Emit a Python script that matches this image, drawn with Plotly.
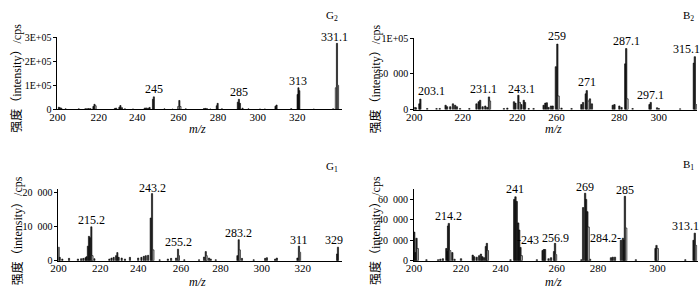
import plotly.graph_objects as go

W, H = 700, 291

# ------------------------------------------------------------------ data
# G2 spectrum (m/z, intensity cps)
G2_mz = [200.3, 200.8, 201.5, 203.5, 209.7, 212.8, 213.6, 214.4, 215.2, 216.6, 217.1,
         226.7, 227.3, 228.8, 229.3, 230.0, 231.4, 235.2, 240.7, 241.4, 242.3, 243.0,
         244.6, 245.0, 250.0, 253.8, 257.0, 260.0, 268.6, 269.3, 270.0, 271.6, 274.6,
         275.0, 277.0, 284.5, 285.0, 285.5, 286.7, 289.5, 294.9, 297.2, 302.2, 302.7,
         309.6, 312.6, 313.0, 313.4, 320.2, 329.3, 331.1]
G2_int = [9000, 7000, 5000, 2000, 2000, 2500, 3000, 3500, 3000, 12000, 21000,
          4000, 5000, 9000, 16000, 7000, 2000, 1500, 5000, 6000, 5000, 8000,
          42000, 52000, 2000, 1000, 37000, 2000, 3500, 4000, 3000, 1500, 15000,
          25000, 2000, 30000, 42000, 25000, 5000, 2000, 1500, 1500, 13000, 18000,
          3000, 62000, 90000, 78000, 1000, 2000, 275000]
G2_hollow_mz = [217.6, 256.5, 257.5, 330.6, 331.6]
G2_hollow_int = [15000, 12000, 12000, 90000, 100000]
G2_labels = ["245", "285", "313", "331.1"]
G2_label_mz = [245.0, 285.0, 313.0, 331.1]

# B2 spectrum
B2_mz = [200.8, 201.3, 202.7, 203.1, 205.9, 209.7, 211.0, 213.4, 214.0, 215.3, 216.4,
         217.3, 218.0, 219.3, 223.1, 226.0, 226.9, 227.5, 228.5, 229.6, 230.4, 231.1,
         237.2, 238.6, 241.3, 241.9, 243.1, 244.3, 245.3, 245.8, 247.3, 249.3, 253.4,
         254.1, 254.7, 255.4, 256.4, 257.1, 258.4, 259.0, 260.7, 264.8, 268.8, 269.5,
         270.6, 271.0, 272.3, 273.1, 281.6, 282.3, 284.3, 285.2, 286.7, 287.1, 289.7,
         296.6, 297.1, 299.7, 300.4, 309.1, 314.7, 315.1]
B2_int = [3000, 2500, 8000, 14600, 1500, 1500, 1500, 6000, 4000, 4000, 8000,
          6000, 4000, 1500, 1500, 8000, 11000, 13000, 4000, 5000, 3000, 17700,
          1500, 2000, 11000, 9000, 20000, 7000, 13000, 10000, 1500, 1500, 6000,
          9000, 9500, 3000, 5000, 5000, 60000, 91600, 2000, 1500, 7000, 10000,
          22000, 26500, 15000, 8000, 6000, 7000, 5000, 3000, 64000, 85400, 1500,
          7000, 10000, 2500, 1500, 1000, 65000, 74000]
B2_hollow_mz = [231.5, 243.7, 259.5, 271.7, 287.6, 315.6]
B2_hollow_int = [12000, 10000, 19000, 12000, 15000, 7000]
B2_labels = ["203.1", "231.1", "243.1", "259", "271", "287.1", "297.1", "315.1"]
B2_label_mz = [203.1, 231.1, 243.1, 259.0, 271.0, 287.1, 297.1, 315.1]

# G1 spectrum
G1_mz = [200.1, 200.6, 201.8, 204.9, 209.0, 210.5, 211.5, 212.5, 213.0, 213.6, 214.1,
         214.6, 215.2, 216.6, 223.5, 224.5, 225.5, 226.6, 227.2, 227.8, 229.2, 230.7,
         233.0, 236.8, 238.3, 239.4, 240.3, 241.4, 242.6, 243.2, 246.7, 250.5, 252.0,
         254.3, 255.2, 258.1, 264.9, 267.2, 268.0, 269.5, 270.3, 272.6, 282.6, 283.2,
         284.7, 290.1, 295.4, 296.2, 300.0, 300.8, 310.3, 311.0, 328.6, 329.0]
G1_int = [4000, 1000, 500, 700, 500, 600, 700, 900, 1200, 4300, 7200,
          6800, 10000, 600, 500, 800, 1000, 1500, 2400, 1000, 800, 500,
          1000, 800, 1000, 1300, 1500, 1600, 12600, 19800, 300, 500, 700,
          800, 3400, 300, 300, 1100, 2700, 800, 500, 300, 1500, 6200,
          700, 300, 700, 900, 500, 800, 800, 4300, 2000, 4000]
G1_hollow_mz = [215.7, 243.8, 255.6, 268.4, 283.7, 311.5]
G1_hollow_int = [1500, 3200, 1500, 1500, 3200, 2500]
G1_labels = ["215.2", "243.2", "255.2", "283.2", "311", "329"]
G1_label_mz = [215.2, 243.2, 255.2, 283.2, 311.0, 329.0]

# B1 spectrum
B1_mz = [200.3, 200.7, 201.2, 205.2, 209.9, 210.8, 211.8, 213.2, 213.7, 213.9, 214.2,
         215.6, 216.5, 219.1, 223.8, 224.4, 225.4, 226.4, 227.1, 227.7, 228.4, 229.1,
         229.5, 239.0, 240.5, 241.0, 241.5, 242.1, 242.5, 243.0, 249.6, 251.9, 252.4,
         252.9, 254.3, 255.3, 256.5, 256.9, 267.5, 268.2, 269.0, 269.4, 269.9, 271.0,
         279.4, 280.1, 281.0, 283.4, 284.2, 284.6, 285.0, 289.4, 297.3, 297.7, 309.3,
         312.6, 313.1]
B1_int = [28000, 8000, 22000, 1000, 1000, 1500, 2000, 12000, 9000, 34000, 36500,
          8000, 1500, 2000, 5500, 4000, 3500, 5000, 6500, 4000, 3000, 14000,
          17000, 1000, 60000, 62500, 58000, 37000, 30000, 13000, 1000, 10000, 11000,
          11000, 2000, 3000, 9000, 17000, 1000, 52000, 66000, 60000, 48000, 1500,
          3000, 3500, 3500, 20000, 22000, 20000, 63000, 1000, 12000, 15000, 1000,
          20000, 27000]
B1_hollow_mz = [201.7, 214.7, 229.9, 243.5, 257.3, 270.4, 285.5, 298.2, 313.6]
B1_hollow_int = [12000, 10000, 10000, 5000, 6000, 33000, 32000, 12000, 15000]
B1_labels = ["214.2", "241", "-243", "256.9", "269", "284.2-", "285", "313.1"]
B1_label_mz = [214.2, 241.0, 243.0, 256.9, 269.0, 284.2, 285.0, 313.1]

# tick labels as printed on the original figure
G2_xticktext = ["200", "220", "240", "260", "280", "300", "320"]
B2_xticktext = ["200", "220", "220", "260", "280", "300"]
G1_xticktext = ["200", "220", "240", "260", "280", "300", "320"]
B1_xticktext = ["200", "220", "240", "260", "280", "300"]
G2_yticks = [0, 100000, 200000, 300000]
G2_yticktext = ["0", "1E+05", "2E+05", "3E+05"]
B2_yticks = [0, 50000, 100000]
B2_yticktext = ["0", "50\u2002000", "1E+05"]
G1_yticks = [0, 10000, 20000]
G1_yticktext = ["0", "10\u2002000", "20\u2002000"]
B1_yticks = [0, 20000, 40000, 60000]
B1_yticktext = ["0", "20\u2002000", "40\u2002000", "60\u2002000"]

PANEL_NAMES = ["G<sub>2</sub>", "B<sub>2</sub>", "G<sub>1</sub>", "B<sub>1</sub>"]
Y_TITLE = "强度（intensity）/cps"
X_TITLE = "<i>m/z</i>"

# ------------------------------------------------------------------ layout/style
FONT = "Liberation Serif, Noto Sans CJK SC, serif"


def px_x(v):
    return v / W


def px_y(v):
    return 1 - v / H


panels = [
    dict(mz=G2_mz, it=G2_int, hmz=G2_hollow_mz, hit=G2_hollow_int,
         labels=G2_labels, lmz=G2_label_mz,
         xd=(50, 337.5), yd=(32.7, 107.8), xr=(199.67, 333.3), yr=(0, 300000),
         xtv=[199.7, 219.1, 237.2, 256.6, 275.2, 293.8, 312.4], xtt=G2_xticktext,
         ytv=G2_yticks, ytt=G2_yticktext,
         shifts=[(0, 8), (0, 7), (0, 6.5), (-2.5, 6)],
         anchors=["center"] * 4,
         name_xy=(328, 10), ytitle_xy=(9, 75), xtitle_xy=(192, 128.5)),
    dict(mz=B2_mz, it=B2_int, hmz=B2_hollow_mz, hit=B2_hollow_int,
         labels=B2_labels, lmz=B2_label_mz,
         xd=(411, 697), yd=(33.5, 108), xr=(200.63, 316.0), yr=(0, 100000),
         xtv=[200.65, 220.4, 242.6, 258.7, 284.3, 300.4], xtt=B2_xticktext,
         ytv=B2_yticks, ytt=B2_yticktext,
         shifts=[(11, 8), (-5, 7.7), (3, 6), (0, 8.3), (0, 8.3), (0, 7.3), (0, 7.3), (-8, 7.3)],
         anchors=["center"] * 8,
         name_xy=(688, 10), ytitle_xy=(372, 76), xtitle_xy=(552, 128.5)),
    dict(mz=G1_mz, it=G1_int, hmz=G1_hollow_mz, hit=G1_hollow_int,
         labels=G1_labels, lmz=G1_label_mz,
         xd=(51, 337.5), yd=(190.7, 265.7), xr=(200.0, 330.7), yr=(0, 21200),
         xtv=[200.02, 219.3, 236.8, 256.6, 274.8, 293.8, 312.8], xtt=G1_xticktext,
         ytv=G1_yticks, ytt=G1_yticktext,
         shifts=[(0, 6.7), (0, 6), (0, 7), (0, 6.4), (0, 6.3), (-4, 6.7)],
         anchors=["center"] * 6,
         name_xy=(328, 168), ytitle_xy=(9, 234), xtitle_xy=(192, 287.5)),
    dict(mz=B1_mz, it=B1_int, hmz=B1_hollow_mz, hit=B1_hollow_int,
         labels=B1_labels, lmz=B1_label_mz,
         xd=(410.7, 697.5), yd=(190.7, 265.7), xr=(200.2, 314.2), yr=(0, 70300),
         xtv=[200.22, 219.1, 235.0, 257.6, 274.2, 298.1], xtt=B1_xticktext,
         ytv=B1_yticks, ytt=B1_yticktext,
         shifts=[(0, 7.7), (0, 8.3), (-5.6, 7.8), (0, 5.6), (0, 6.7), (0, 0.5), (0, 6.7), (-9.3, 6.7)],
         anchors=["center", "center", "left", "center", "center", "right", "center", "center"],
         name_xy=(688, 166), ytitle_xy=(372, 234), xtitle_xy=(552, 287.5)),
]

fig = go.Figure()
layout = dict(width=W, height=H, margin=dict(l=0, r=0, t=0, b=0),
              paper_bgcolor="white", plot_bgcolor="white", showlegend=False,
              barmode="overlay", font=dict(family=FONT, size=11, color="black"))
annotations = []

for i, p in enumerate(panels):
    n = i + 1
    xa = "x" if n == 1 else f"x{n}"
    ya = "y" if n == 1 else f"y{n}"
    fig.add_trace(go.Bar(x=p["mz"], y=p["it"], width=0.55, xaxis=xa, yaxis=ya,
                         marker=dict(color="#2a2a2a", line=dict(color="black", width=0.6)),
                         hoverinfo="x+y"))
    fig.add_trace(go.Bar(x=p["hmz"], y=p["hit"], width=0.55, xaxis=xa, yaxis=ya,
                         marker=dict(color="white", line=dict(color="#333", width=0.9)),
                         hoverinfo="x+y"))
    xkey = "xaxis" if n == 1 else f"xaxis{n}"
    ykey = "yaxis" if n == 1 else f"yaxis{n}"
    layout[xkey] = dict(domain=[px_x(p["xd"][0]), px_x(p["xd"][1])], range=list(p["xr"]),
                        anchor=ya, showline=True, linecolor="black", linewidth=1,
                        ticks="", tickvals=p["xtv"], ticktext=p["xtt"],
                        ticklabelstandoff=-3,
                        tickfont=dict(family=FONT, size=11),
                        showgrid=False, zeroline=False)
    layout[ykey] = dict(domain=[px_y(p["yd"][1]), px_y(p["yd"][0])], range=list(p["yr"]),
                        anchor=xa, showline=True, linecolor="black", linewidth=1,
                        ticks="outside", ticklen=3, tickwidth=1, tickcolor="black",
                        tickvals=p["ytv"], ticktext=p["ytt"],
                        tickfont=dict(family=FONT, size=10),
                        showgrid=False, zeroline=False)
    # peak labels anchored on the peak tops
    for lab, lmz, (dx, dy), anc in zip(p["labels"], p["lmz"], p["shifts"], p["anchors"]):
        j = min(range(len(p["mz"])), key=lambda k: abs(p["mz"][k] - lmz))
        annotations.append(dict(x=p["mz"][j], y=p["it"][j], xref=xa, yref=ya, text=lab,
                                showarrow=False, xanchor=anc, yanchor="middle",
                                xshift=dx, yshift=dy,
                                font=dict(family=FONT, size=12, color="black")))
    # panel name
    annotations.append(dict(x=px_x(p["name_xy"][0]), y=px_y(p["name_xy"][1]), xref="paper",
                            yref="paper", text=PANEL_NAMES[i], showarrow=False,
                            xanchor="center", yanchor="middle",
                            font=dict(family=FONT, size=11, color="black")))
    # axis titles
    annotations.append(dict(x=px_x(p["ytitle_xy"][0]), y=px_y(p["ytitle_xy"][1]), xref="paper",
                            yref="paper", text=Y_TITLE, showarrow=False, textangle=-90,
                            xanchor="center", yanchor="middle",
                            font=dict(family=FONT, size=12, color="black")))
    annotations.append(dict(x=px_x(p["xtitle_xy"][0]), y=px_y(p["xtitle_xy"][1]), xref="paper",
                            yref="paper", text=X_TITLE, showarrow=False,
                            xanchor="center", yanchor="middle",
                            font=dict(family=FONT, size=12, color="black")))

layout["annotations"] = annotations
fig.update_layout(**layout)
fig.write_html("out.html", config={"displayModeBar": False},
               post_script="document.body.style.margin='0';document.body.style.overflow='hidden';")
